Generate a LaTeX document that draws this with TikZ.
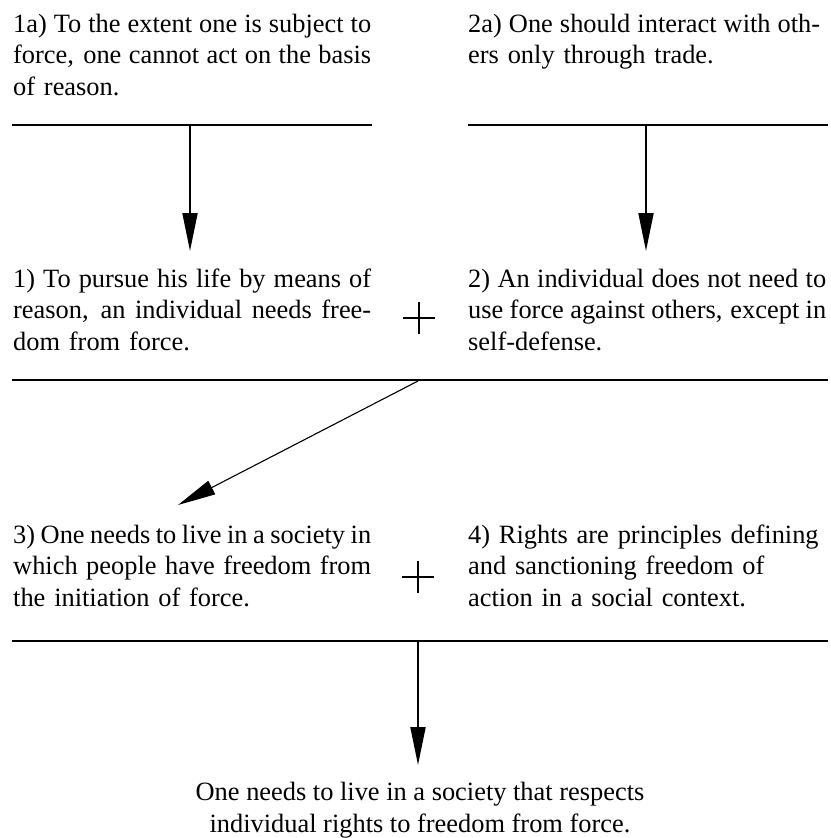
\documentclass[tikz,border=0pt]{standalone}
\usepackage{fontspec}
\setmainfont{Liberation Serif}
\usetikzlibrary{arrows.meta}
\newcommand{\jlinew}[2]{\leavevmode\hbox to #1{\spaceskip=0pt plus 1fil\relax #2}}
\newcommand{\jline}[1]{\jlinew{358pt}{#1}}
\tikzset{
  txt/.style={anchor=base west, inner sep=0pt, text width=362pt, align=left,
    font=\fontsize{26.4pt}{31.6pt}\selectfont},
  ctxt/.style={anchor=base, inner sep=0pt, align=center,
    font=\fontsize{26.4pt}{32pt}\selectfont},
  rulestyle/.style={line width=2.2pt},
  arr/.style={line width=2pt, -{Triangle[length=38pt,width=15pt]}},
  darr/.style={line width=1.1pt, -{Triangle[length=38pt,width=15pt]}},
  plusmark/.style={line width=1.6pt}
}
\begin{document}
\begin{tikzpicture}[x=1pt,y=-1pt]
\useasboundingbox (0,0) rectangle (830,838);

% text nodes
\node[txt] (t1a) at (13,32) {\jline{1a) To the extent one is subject to}\\
  \jline{force, one cannot act on the basis}\\ of reason.};
\node[txt] (t2a) at (468,32) {\jlinew{352pt}{2a) One should interact with oth-}\\
  ers only through trade.};
\node[txt] (t1) at (13,287) {\jline{1) To pursue his life by means of}\\
  \jline{reason, an individual needs free-}\\ dom from force.};
\node[txt] (t2) at (468,287) {\jline{2) An individual does not need to}\\
  \jline{use force against others, except in}\\ self-defense.};
\node[txt] (t3) at (13,543) {\jline{3) One needs to live in a society in}\\
  \jline{which people have freedom from}\\ the initiation of force.};
\node[txt] (t4) at (468,543) {4) Rights are principles defining\\
  and sanctioning freedom of\\ action in a social context.};
\node[ctxt] (tc) at (420,832) {One needs to live in a society that respects\\
  individual rights to freedom from force.};

% rules
\coordinate (r1a) at (12,125);  \coordinate (r1b) at (372,125);
\coordinate (r2a) at (468,125); \coordinate (r2b) at (828,125);
\coordinate (r3a) at (12,380);  \coordinate (r3b) at (828,380);
\coordinate (r4a) at (12,641);  \coordinate (r4b) at (828,641);
\draw[rulestyle] (r1a) -- (r1b);
\draw[rulestyle] (r2a) -- (r2b);
\draw[rulestyle] (r3a) -- (r3b);
\draw[rulestyle] (r4a) -- (r4b);

% arrows
\coordinate (a1s) at (190,125); \coordinate (a1e) at (190,251);
\coordinate (a2s) at (646,125); \coordinate (a2e) at (646,251);
\coordinate (a3s) at (418,381); \coordinate (a3e) at (178,505);
\coordinate (a4s) at (418,641); \coordinate (a4e) at (418,765);
\draw[arr] (a1s) -- (a1e);
\draw[arr] (a2s) -- (a2e);
\draw[darr] (a3s) -- (a3e);
\draw[arr] (a4s) -- (a4e);

% plus signs
\coordinate (p1) at (419,318);
\coordinate (p2) at (418,577);
\draw[plusmark] ([xshift=-16pt]p1) -- ([xshift=16pt]p1)
                ([yshift=-16pt]p1) -- ([yshift=16pt]p1);
\draw[plusmark] ([xshift=-16pt]p2) -- ([xshift=16pt]p2)
                ([yshift=-16pt]p2) -- ([yshift=16pt]p2);
\end{tikzpicture}
\end{document}
